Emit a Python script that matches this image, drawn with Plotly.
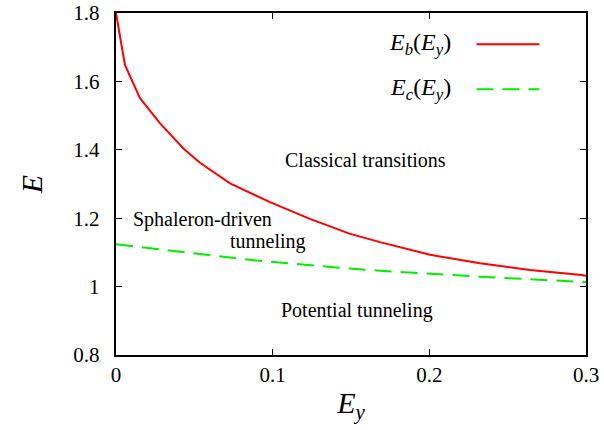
import plotly.graph_objects as go

# E_b(E_y) curve (red, solid)
eb_x = [0.0, 0.0057, 0.0153, 0.028, 0.043, 0.0536, 0.0728, 0.0983, 0.1238,
        0.149, 0.1685, 0.2004, 0.2323, 0.2642, 0.2972, 0.30]
eb_y = [1.80, 1.648, 1.551, 1.478, 1.404, 1.362, 1.302, 1.247, 1.198,
        1.155, 1.130, 1.093, 1.068, 1.0485, 1.034, 1.032]

# E_c(E_y) curve (green, dashed)
ec_x = [0.0, 0.045, 0.09, 0.149, 0.1685, 0.2323, 0.30]
ec_y = [1.124, 1.099, 1.076, 1.053, 1.0465, 1.029, 1.013]

x_tick_step = 0.1
y_tick_step = 0.2

region_labels = [
    ("Classical transitions", 0.159, 1.370),
    ("Sphaleron-driven", 0.0552, 1.195),
    ("tunneling", 0.0967, 1.131),
    ("Potential tunneling", 0.154, 0.929),
]

FONT = "Liberation Serif"

fig = go.Figure()
fig.add_trace(go.Scatter(x=eb_x, y=eb_y, mode="lines",
                         line=dict(color="#ff0000", width=2), showlegend=False))
fig.add_trace(go.Scatter(x=ec_x, y=ec_y, mode="lines",
                         line=dict(color="#00ee00", width=2, dash="17px,9px"),
                         showlegend=False))

for txt, xx, yy in region_labels:
    fig.add_annotation(x=xx, y=yy, text=txt, showarrow=False,
                       font=dict(family=FONT, size=20, color="black"))

legend_items = [("<i>E<sub>b</sub></i>(<i>E<sub>y</sub></i>)", "#ff0000", "solid", 0.9085),
                ("<i>E<sub>c</sub></i>(<i>E<sub>y</sub></i>)", "#00ee00", "17px,9px", 0.777)]
for txt, col, dash, yy in legend_items:
    fig.add_annotation(xref="paper", yref="paper", x=0.717, y=yy, text=txt,
                       showarrow=False, xanchor="right", yanchor="middle",
                       font=dict(family=FONT, size=24, color="black"))
    fig.add_shape(type="line", xref="paper", yref="paper", x0=0.767, x1=0.901,
                  y0=yy, y1=yy, line=dict(color=col, width=2, dash=dash))

axis_common = dict(showgrid=False, zeroline=False, showline=True, linecolor="black",
                   linewidth=1.5, mirror="allticks", ticks="inside", ticklen=6,
                   tickcolor="black", tickwidth=1, tickfont=dict(size=21))

fig.update_xaxes(range=[0, 0.3], tick0=0, dtick=x_tick_step,
                 title=dict(text="<i>E<sub>y</sub></i>", font=dict(size=30), standoff=6),
                 **axis_common)
fig.update_yaxes(range=[0.8, 1.8], tick0=0.8, dtick=y_tick_step, ticksuffix="\u00a0\u00a0",
                 title=dict(text="<i>E</i>", font=dict(size=30), standoff=22),
                 **axis_common)

fig.update_layout(width=604, height=430, plot_bgcolor="white", paper_bgcolor="white",
                  font=dict(family=FONT, color="black"),
                  margin=dict(l=116, r=18, t=13, b=75, autoexpand=False))

fig.write_html("out.html")
